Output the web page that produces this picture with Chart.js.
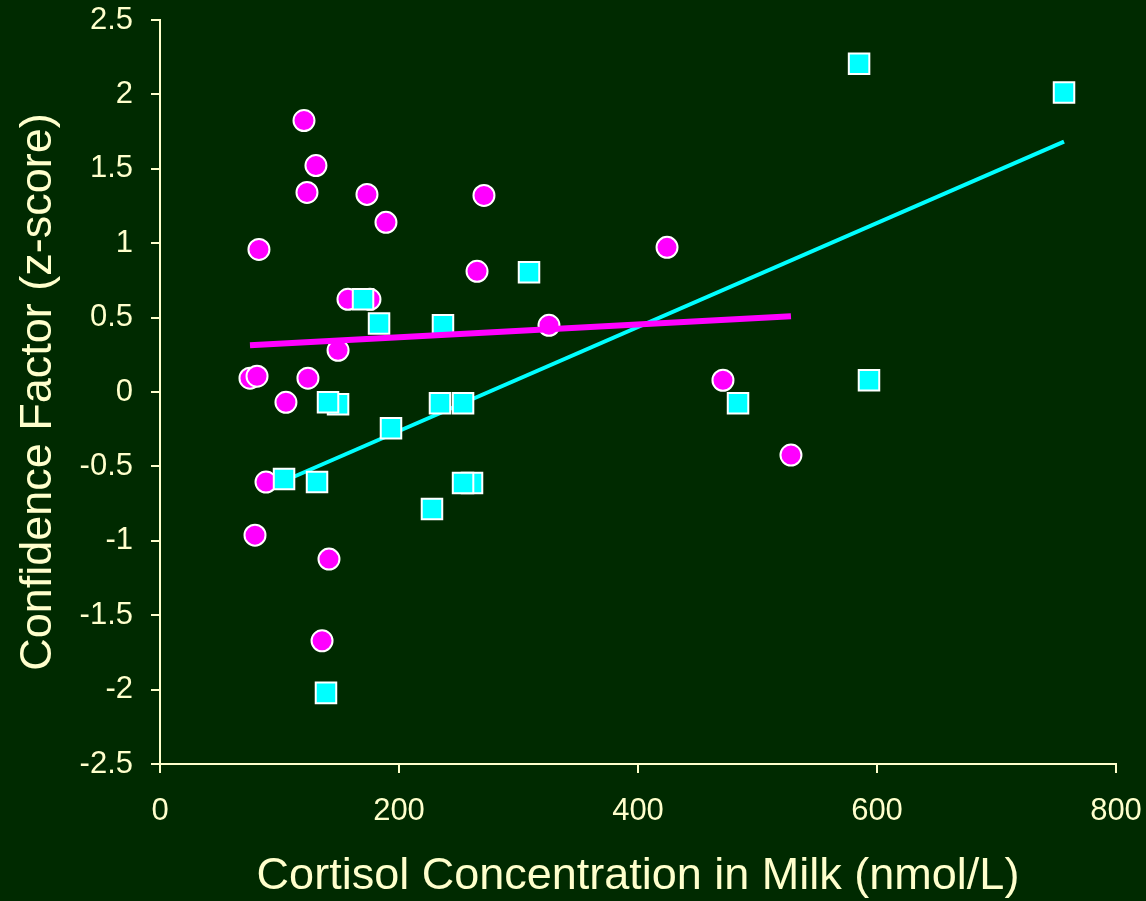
<!DOCTYPE html>
<html>
<head>
<meta charset="utf-8">
<title>Cortisol vs Confidence Factor</title>
<script src="https://cdn.jsdelivr.net/npm/chart.js@4"></script>
<style>
    html, body { margin: 0; padding: 0; background: #002a00; }
    canvas { display: block; }
</style>
</head>
<body>
<canvas id="cortisolChart" width="1146" height="901"></canvas>
<script>
// magenta circles (x = cortisol nmol/L, y = z-score)
const circleX = [120.5, 130.5, 123.0, 173.2, 189.1, 271.1, 82.8, 265.3, 424.3, 157.3, 175.7, 149.0, 325.5, 75.3, 81.2, 123.8, 105.4, 88.7, 79.5, 141.4, 135.6, 471.1, 528.0];
const circleY = [1.824, 1.522, 1.341, 1.328, 1.140, 1.321, 0.958, 0.811, 0.972, 0.623, 0.623, 0.280, 0.448, 0.093, 0.106, 0.093, -0.069, -0.605, -0.962, -1.123, -1.672, 0.079, -0.424];

// cyan squares
const squareX = [585.0, 756.5, 308.8, 169.9, 183.3, 236.8, 149.0, 140.6, 193.3, 234.3, 253.6, 103.8, 131.4, 261.1, 253.6, 227.6, 138.9, 483.7, 593.3];
const squareY = [2.206, 2.012, 0.804, 0.623, 0.461, 0.448, -0.082, -0.069, -0.243, -0.075, -0.075, -0.585, -0.605, -0.612, -0.612, -0.787, -2.022, -0.075, 0.079];

// fitted lines (end points)
const magentaFitX = [75.3, 528.0];
const magentaFitY = [0.314, 0.509];
const cyanFitX = [103.8, 756.5];
const cyanFitY = [-0.598, 1.683];

const xTicks = [0, 200, 400, 600, 800];
const yTicks = [-2.5, -2, -1.5, -1, -0.5, 0, 0.5, 1, 1.5, 2, 2.5];

const textColor = '#FFFFCC';
const fontFamily = '"Liberation Sans", Arial, sans-serif';

function toPoints(xs, ys) {
    return xs.map((x, i) => ({ x: x, y: ys[i] }));
}

const ctx = document.getElementById('cortisolChart').getContext('2d');

new Chart(ctx, {
    type: 'scatter',
    data: {
        datasets: [{
            label: 'fit magenta',
            data: toPoints(magentaFitX, magentaFitY),
            showLine: true,
            borderColor: '#FF00FF',
            borderWidth: 6,
            pointRadius: 0,
            order: 0
        }, {
            label: 'squares',
            data: toPoints(squareX, squareY),
            pointStyle: 'rect',
            pointRadius: 14.5,
            backgroundColor: '#00FFFF',
            borderColor: '#FFFFFF',
            borderWidth: 2,
            order: 1
        }, {
            label: 'circles',
            data: toPoints(circleX, circleY),
            pointStyle: 'circle',
            pointRadius: 10.5,
            backgroundColor: '#FF00FF',
            borderColor: '#FFFFFF',
            borderWidth: 2,
            order: 2
        }, {
            label: 'fit cyan',
            data: toPoints(cyanFitX, cyanFitY),
            showLine: true,
            borderColor: '#00FFFF',
            borderWidth: 4,
            pointRadius: 0,
            order: 3
        }]
    },
    options: {
        responsive: false,
        animation: false,
        devicePixelRatio: 1,
        layout: {
            padding: 0
        },
        plugins: {
            legend: { display: false },
            tooltip: { enabled: false }
        },
        scales: {
            x: {
                type: 'linear',
                min: 0,
                max: 800,
                afterBuildTicks: (scale) => { scale.ticks = xTicks.map(v => ({ value: v })); },
                afterFit: (scale) => {
                    scale.height = 137;
                    scale.paddingRight = 30;
                },
                grid: {
                    drawOnChartArea: false,
                    drawTicks: true,
                    tickLength: 9,
                    color: textColor,
                    lineWidth: 2
                },
                border: { color: textColor, width: 2 },
                ticks: {
                    color: textColor,
                    padding: 20,
                    maxRotation: 0,
                    callback: (v) => String(v),
                    font: { family: fontFamily, size: 31 }
                },
                title: {
                    display: true,
                    text: 'Cortisol Concentration in Milk (nmol/L)',
                    color: textColor,
                    padding: { top: 0, bottom: -3 },
                    font: { family: fontFamily, size: 45 }
                }
            },
            y: {
                type: 'linear',
                min: -2.5,
                max: 2.5,
                afterBuildTicks: (scale) => { scale.ticks = yTicks.map(v => ({ value: v })); },
                afterFit: (scale) => {
                    scale.width = 160;
                    scale.paddingTop = 20;
                    scale.paddingBottom = 0;
                },
                grid: {
                    drawOnChartArea: false,
                    drawTicks: true,
                    tickLength: 9,
                    color: textColor,
                    lineWidth: 2
                },
                border: { color: textColor, width: 2 },
                ticks: {
                    color: textColor,
                    padding: 18,
                    callback: (v) => String(v),
                    font: { family: fontFamily, size: 31 }
                },
                title: {
                    display: true,
                    text: 'Confidence Factor (z-score)',
                    color: textColor,
                    padding: { top: 12, bottom: 0 },
                    font: { family: fontFamily, size: 45 }
                }
            }
        }
    }
});
</script>
</body>
</html>
